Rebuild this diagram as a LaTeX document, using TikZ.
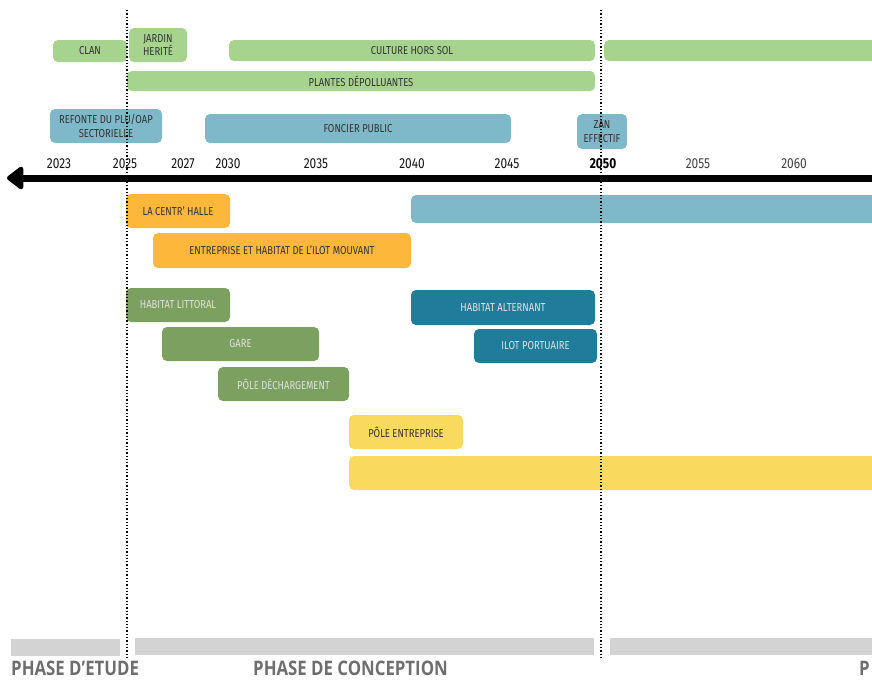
\documentclass[tikz,border=0pt]{standalone}
\usepackage{fontspec}
\setmainfont{Fira Sans}[FakeStretch=0.82]
\newfontfamily\phasefont{Open Sans}[FakeStretch=0.84]
\usetikzlibrary{arrows.meta,positioning}

\definecolor{vertclair}{HTML}{A6D48E}
\definecolor{vertfonce}{HTML}{7BA05F}
\definecolor{bleuclair}{HTML}{7FB8C8}
\definecolor{bleufonce}{HTML}{217C9C}
\definecolor{orange}{HTML}{FDB73A}
\definecolor{jaune}{HTML}{F9D95E}
\definecolor{grisphase}{HTML}{D3D3D3}
\definecolor{textephase}{HTML}{6E6E6E}

\begin{document}
\begin{tikzpicture}[x=1pt,y=-1pt,
bar/.style={rounded corners=5pt,align=center,inner sep=0pt,text=black!80,
  font=\fontsize{11.5}{13.5}\selectfont},
light/.style={bar,text=white!88!black},
phasebar/.style={fill=grisphase,inner sep=0pt,minimum height=17pt},
phase/.style={anchor=base west,inner sep=0pt,text=textephase,font=\phasefont\bfseries\fontsize{20}{22}\selectfont},
year/.style={anchor=base,font=\fontsize{14.5}{16}\selectfont},
axis/.style={line width=7pt,-{Triangle[length=18pt,width=26pt,round]}},
jalon/.style={dotted,line width=1.3pt}]
\useasboundingbox (0,0) rectangle (872,681);
\clip (0,0) rectangle (872,681);

% agriculture
\node[bar,fill=vertclair,minimum width=74pt,minimum height=22pt] (clan) at (90,51) {CLAN};
\node[bar,fill=vertclair,minimum width=58pt,minimum height=34pt] (jardin) at (158,45) {JARDIN\\HERITÉ};
\node[bar,fill=vertclair,minimum width=366pt,minimum height=21pt] (culture) at (412,50.5) {CULTURE HORS SOL};
\node[bar,fill=vertclair,minimum width=276pt,minimum height=21pt] (culturesuite) at (742,50.5) {};
\node[bar,fill=vertclair,minimum width=468pt,minimum height=20pt] (plantes) at (361,81) {PLANTES DÉPOLLUANTES};

% foncier
\node[bar,fill=bleuclair,minimum width=112pt,minimum height=34pt] (refonte) at (106,126) {REFONTE DU PLU/OAP\\SECTORIELLE};
\node[bar,fill=bleuclair,minimum width=306pt,minimum height=29pt] (foncier) at (358,128.5) {FONCIER PUBLIC};
\node[bar,fill=bleuclair,minimum width=50pt,minimum height=35pt] (zan) at (602,131.5) {ZAN\\EFFECTIF};

% axe du temps
\coordinate (axeD) at (880,178);
\coordinate (axeG) at (7,178);
\draw[axis] (axeD) -- (axeG);
\foreach \an/\px in {2023/59,2025/125,2027/183,2030/228,2035/316,2040/412,2045/507}
  \node[year,text=black!92] (a\an) at (\px,168.5) {\an};
\node[year,font=\bfseries\fontsize{14.5}{16}\selectfont] (a2050) at (603,168.5) {2050};
\foreach \an/\px in {2055/698,2060/794}
  \node[year,text=black!75] (a\an) at (\px,168.5) {\an};

% projets
\node[bar,fill=bleuclair,minimum width=469pt,minimum height=28pt] (bleulong) at (645.5,209) {};
\node[bar,fill=orange,minimum width=104pt,minimum height=34pt] (centr) at (178,211) {LA CENTR' HALLE};
\node[bar,fill=orange,minimum width=258pt,minimum height=35pt] (mouvant) at (282,250.5) {ENTREPRISE ET HABITAT DE L'ILOT MOUVANT};
\node[light,fill=vertfonce,minimum width=104pt,minimum height=34pt] (littoral) at (178,305) {HABITAT LITTORAL};
\node[light,fill=vertfonce,minimum width=157pt,minimum height=34pt] (gare) at (240.5,344) {GARE};
\node[light,fill=vertfonce,minimum width=131pt,minimum height=34pt] (dechargement) at (283.5,384) {PÔLE DÉCHARGEMENT};
\node[light,fill=bleufonce,minimum width=184pt,minimum height=35pt] (alternant) at (503,307.5) {HABITAT ALTERNANT};
\node[light,fill=bleufonce,minimum width=123pt,minimum height=34pt] (portuaire) at (535.5,346) {ILOT PORTUAIRE};
\node[bar,fill=jaune,minimum width=114pt,minimum height=34pt] (entreprise) at (406,432) {PÔLE ENTREPRISE};
\node[bar,fill=jaune,minimum width=531pt,minimum height=34pt] (jaunelong) at (614.5,473) {};

% jalons
\coordinate (j1h) at (127,10); \coordinate (j1b) at (127,657);
\coordinate (j2h) at (601,10); \coordinate (j2b) at (601,657);
\draw[jalon] (j1h) -- (j1b);
\draw[jalon] (j2h) -- (j2b);

% phases
\node[phasebar,minimum width=109pt] (etudebar) at (65.5,647) {};
\node[phasebar,minimum width=459pt] (conceptionbar) at (364.5,646.5) {};
\node[phasebar,minimum width=270pt] (suitebar) at (745,646.5) {};
\node[phase] (etude) at (11,675.5) {PHASE D’ETUDE};
\node[phase] (conception) at (253,675.5) {PHASE DE CONCEPTION};
\node[phase] (suite) at (859,675.5) {P};
\end{tikzpicture}
\end{document}
